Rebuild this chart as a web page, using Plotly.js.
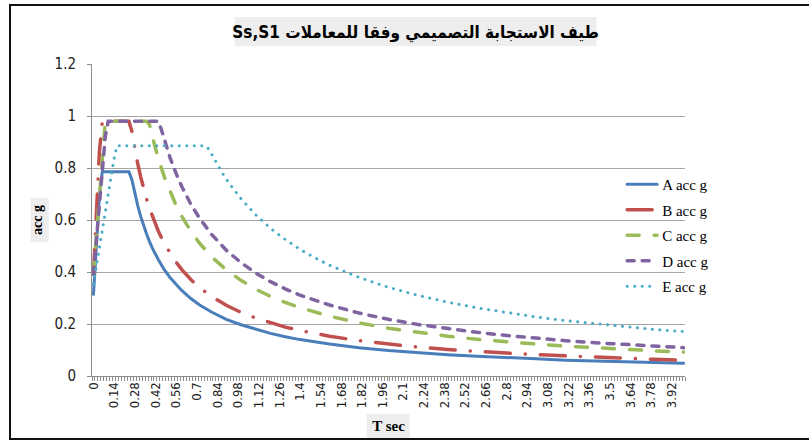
<!DOCTYPE html>
<html>
<head>
<meta charset="utf-8">
<script src="https://cdn.plot.ly/plotly-3.0.1.min.js"></script>
<style>
  html, body { margin: 0; padding: 0; background: #fff; overflow: hidden; }
  #wrap { position: relative; width: 809px; height: 443px; }
  #chart { width: 809px; height: 443px; }
  #frame { position: absolute; left: 9px; top: 4px; width: 900px; height: 432px;
           border-top: 2.5px solid #111; border-left: 2.5px solid #111; border-bottom: 2.5px solid #111;
           pointer-events: none; }
  path.js-line { stroke-linecap: round; }
</style>
</head>
<body>
<div id="wrap"><div id="chart"></div><div id="frame"></div></div>
<script>
// ---- data ----
const tAB = [0,0.02,0.04,0.06,0.24,0.26,0.28,0.30,0.32,0.34,0.36,0.38,0.40,0.44,0.48,0.52,0.56,0.60,0.66,0.72,0.80,0.90,1.00,1.10,1.20,1.30,1.40,1.60,1.80,2.00,2.20,2.40,2.60,2.80,3.00,3.20,3.40,3.60,3.80,4.00];
const accA = [0.314,0.503,0.692,0.786,0.786,0.756,0.702,0.655,0.614,0.578,0.546,0.517,0.491,0.447,0.409,0.378,0.351,0.328,0.298,0.273,0.246,0.218,0.197,0.179,0.164,0.151,0.140,0.123,0.109,0.098,0.089,0.082,0.076,0.070,0.066,0.061,0.058,0.055,0.052,0.049];
const accB = [0.392,0.627,0.862,0.98,0.98,0.942,0.875,0.817,0.766,0.721,0.681,0.645,0.613,0.557,0.510,0.471,0.438,0.408,0.371,0.340,0.306,0.272,0.245,0.223,0.204,0.188,0.175,0.153,0.136,0.123,0.111,0.102,0.094,0.088,0.082,0.077,0.072,0.068,0.064,0.061];
const tC = [0,0.02,0.04,0.06,0.08,0.36,0.38,0.40,0.44,0.48,0.52,0.56,0.60,0.66,0.72,0.80,0.90,1.00,1.10,1.20,1.30,1.40,1.60,1.80,2.00,2.20,2.40,2.60,2.80,3.00,3.20,3.40,3.60,3.80,4.00];
const accC = [0.392,0.549,0.706,0.862,0.98,0.98,0.967,0.919,0.835,0.766,0.707,0.656,0.613,0.557,0.510,0.459,0.408,0.368,0.334,0.306,0.283,0.263,0.230,0.204,0.184,0.167,0.153,0.141,0.131,0.123,0.115,0.108,0.102,0.097,0.092];
const tD = [0,0.02,0.04,0.06,0.08,0.10,0.44,0.46,0.48,0.52,0.56,0.60,0.66,0.72,0.80,0.90,1.00,1.10,1.20,1.30,1.40,1.60,1.80,2.00,2.20,2.40,2.60,2.80,3.00,3.20,3.40,3.60,3.80,4.00];
const accD = [0.392,0.524,0.656,0.788,0.921,0.98,0.98,0.948,0.908,0.838,0.779,0.727,0.661,0.606,0.545,0.484,0.436,0.396,0.363,0.335,0.311,0.273,0.242,0.218,0.198,0.182,0.168,0.156,0.145,0.136,0.128,0.121,0.115,0.109];
const tE = [0,0.02,0.04,0.06,0.08,0.10,0.12,0.14,0.16,0.76,0.78,0.80,0.84,0.88,0.92,0.96,1.00,1.10,1.20,1.30,1.40,1.50,1.60,1.80,2.00,2.20,2.40,2.60,2.80,3.00,3.20,3.40,3.60,3.80,4.00];
const accE = [0.354,0.423,0.492,0.561,0.630,0.699,0.768,0.837,0.886,0.886,0.874,0.853,0.812,0.775,0.741,0.710,0.682,0.620,0.568,0.525,0.487,0.455,0.426,0.379,0.341,0.310,0.284,0.262,0.244,0.227,0.213,0.201,0.189,0.179,0.171];
const seriesNames = ["A acc g","B acc g","C acc g","D acc g","E acc g"];
const tickVals = [0,0.14,0.28,0.42,0.56,0.7,0.84,0.98,1.12,1.26,1.4,1.54,1.68,1.82,1.96,2.1,2.24,2.38,2.52,2.66,2.8,2.94,3.08,3.22,3.36,3.5,3.64,3.78,3.92];
const tickText = ["0","0.14","0.28","0.42","0.56","0.7","0.84","0.98","1.12","1.26","1.4","1.54","1.68","1.82","1.96","2.1","2.24","2.38","2.52","2.66","2.8","2.94","3.08","3.22","3.36","3.5","3.64","3.78","3.92"];
const titleText = "\u202Bطيف الاستجابة التصميمي وفقا للمعاملات Ss,S1\u202C";

// ---- styling ----
const xs = [tAB, tAB, tC, tD, tE];
const ys = [accA, accB, accC, accD, accE];
const colors = ["#4A7EBB","#C0504D","#9BBB59","#8064A2","#4BACC6"];
const widths = [3, 3.5, 3.5, 3.5, 3];
const dashes = ["solid","25px,15px,0.1px,15px","12px,15px","7px,8px","0.1px,7.4px"];

const traces = seriesNames.map((n, i) => ({
  type: "scatter", mode: "lines", name: n,
  x: xs[i], y: ys[i], legendgroup: "g" + i,
  line: { color: colors[i], width: widths[i], dash: dashes[i] }
}));

const gray = "#8c8c8c";
const layout = {
  width: 809, height: 443,
  margin: { l: 92, r: 124, t: 64, b: 67 },
  paper_bgcolor: "#fff", plot_bgcolor: "#fff",
  showlegend: true,
  title: {
    text: "<b>" + titleText + "</b>",
    font: { family: "DejaVu Sans Condensed, DejaVu Sans", size: 17, color: "#000" },
    xref: "paper", x: 0.5458, xanchor: "center",
    yref: "container", y: 0.928, yanchor: "middle"
  },
  legend: {
    x: 0.894, xanchor: "left", y: 0.45, yanchor: "middle",
    traceorder: "grouped", tracegroupgap: 3,
    font: { family: "Liberation Serif", size: 15, color: "#000" },
    bgcolor: "rgba(0,0,0,0)"
  },
  xaxis: {
    range: [-0.01, 4.01], tickmode: "array", tickvals: tickVals, ticktext: tickText,
    tickangle: -90, ticks: "", showgrid: false, zeroline: false,
    showline: true, linecolor: gray, linewidth: 1,
    tickfont: { family: "Liberation Sans Narrow, DejaVu Sans Condensed, Liberation Sans", size: 13, color: "#222" },
    minor: { tickmode: "linear", tick0: -0.01, dtick: 0.02, ticks: "outside", ticklen: 4, tickcolor: gray, showgrid: false },
    title: { text: "<b>T sec</b>", font: { family: "Liberation Serif", size: 15, color: "#000" }, standoff: 13 }
  },
  yaxis: {
    range: [0, 1.2], dtick: 0.2, tick0: 0, showgrid: true, gridcolor: "#a6a6a6", gridwidth: 1,
    zeroline: false, showline: true, linecolor: gray, linewidth: 1,
    ticks: "outside", ticklen: 4, tickcolor: gray, ticklabelstandoff: 8,
    tickfont: { family: "Liberation Sans Narrow, DejaVu Sans Condensed, Liberation Sans", size: 15, color: "#222" },
    title: { text: "<b>acc g</b>", font: { family: "Liberation Serif", size: 14, color: "#000" }, standoff: 8 }
  },
  shapes: [
    { type: "rect", xref: "paper", yref: "paper", x0: 0.2407, x1: 0.8509, y0: 1.0577, y1: 1.1506, fillcolor: "#eeeeee", line: { width: 0 }, layer: "below" },
    { type: "rect", xref: "paper", yref: "paper", x0: -0.1034, x1: -0.073, y0: 0.4295, y1: 0.5705, fillcolor: "#eeeeee", line: { width: 0 }, layer: "below" },
    { type: "rect", xref: "paper", yref: "paper", x0: 0.4632, x1: 0.5357, y0: -0.2051, y1: -0.1218, fillcolor: "#eeeeee", line: { width: 0 }, layer: "below" }
  ]
};

Plotly.newPlot("chart", traces, layout, { displayModeBar: false, staticPlot: true });
</script>
</body>
</html>
